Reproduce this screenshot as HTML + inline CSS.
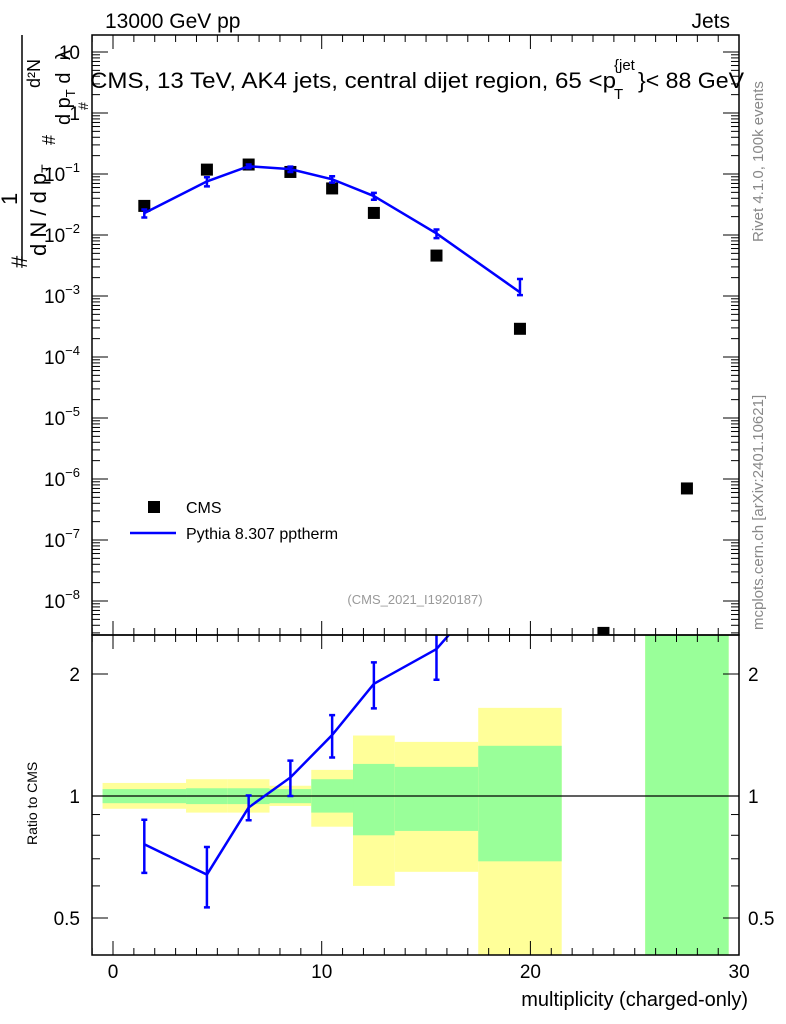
<!DOCTYPE html>
<html><head><meta charset="utf-8"><style>
html,body{margin:0;padding:0;background:#fff}
svg{display:block;font-family:"Liberation Sans",sans-serif}
</style></head><body>
<svg id="c" width="786" height="1024" viewBox="0 0 786 1024">
<defs>
<clipPath id="cm"><rect x="92" y="35" width="647" height="600"/></clipPath>
<clipPath id="cr"><rect x="92" y="635" width="647" height="320"/></clipPath>
</defs>
<g id="bands" clip-path="url(#cr)"></g>
<g id="main"></g>
<g id="ratio"></g>
<rect x="92" y="35" width="647" height="600" fill="none" stroke="#000" stroke-width="1.5"/>
<rect x="92" y="635" width="647" height="320" fill="none" stroke="#000" stroke-width="1.5"/>
<g id="axes"></g>
<text x="105" y="28" font-size="21">13000 GeV pp</text>
<text x="730" y="28" font-size="21" text-anchor="end">Jets</text>
<g>
<text x="90" y="88" font-size="22" textLength="526" lengthAdjust="spacingAndGlyphs">CMS, 13 TeV, AK4 jets, central dijet region, 65 &lt;p</text>
<text x="614" y="70" font-size="15">{jet</text>
<text x="614" y="99" font-size="15">T</text>
<text x="638" y="88" font-size="22" textLength="106" lengthAdjust="spacingAndGlyphs">}&lt; 88 GeV</text>
</g>
<text x="415" y="604" font-size="13" fill="#999" text-anchor="middle">(CMS_2021_I1920187)</text>
<rect x="148" y="501" width="12" height="12" fill="#000"/>
<text x="186" y="513" font-size="16">CMS</text>
<line x1="130" y1="533" x2="176" y2="533" stroke="#0000ff" stroke-width="2.5"/>
<text x="186" y="539" font-size="16">Pythia 8.307 pptherm</text>
<text transform="translate(763,242) rotate(-90)" font-size="15" fill="#888">Rivet 4.1.0,  100k events</text>
<text transform="translate(763,630) rotate(-90)" font-size="15" fill="#888">mcplots.cern.ch [arXiv:2401.10621]</text>
<text transform="translate(37,845) rotate(-90)" font-size="14">Ratio to CMS</text>
<g>
<text transform="translate(27,268) rotate(-90)" font-size="22">#</text>
<text transform="translate(17,205) rotate(-90)" font-size="22">1</text>
<line x1="22" y1="262" x2="22" y2="35" stroke="#000" stroke-width="1.5"/>
<text transform="translate(46,256) rotate(-90)" font-size="22">d N / d p<tspan font-size="14" dy="5">T</tspan></text>
<text transform="translate(55,145) rotate(-90)" font-size="18">#</text>
<text transform="translate(40,88) rotate(-90)" font-size="18">d²N</text>
<text transform="translate(70,125) rotate(-90)" font-size="20">d p<tspan font-size="13" dy="5">T</tspan><tspan dy="-5"> d</tspan></text>
<text transform="translate(70,60) rotate(-90)" font-size="20">λ</text>
<text transform="translate(88,110) rotate(-90)" font-size="14">#</text>
</g>
<text x="748" y="1006" font-size="20" text-anchor="end">multiplicity (charged-only)</text>
</svg>
<script>
const binCenters=[1.5,4.5,6.5,8.5,10.5,12.5,15.5,19.5,23.5,27.5];
const binLo=[-0.5,3.5,5.5,7.5,9.5,11.5,13.5,17.5,21.5,25.5];
const binHi=[3.5,5.5,7.5,9.5,11.5,13.5,17.5,21.5,25.5,29.5];
const cmsValues=[0.030,0.118,0.143,0.108,0.058,0.023,0.0046,0.00029,3e-9,7e-7];
const pythiaX=[1.5,4.5,6.5,8.5,10.5,12.5,15.5,19.5];
const pythiaValues=[0.0228,0.0755,0.134,0.120,0.082,0.0435,0.0106,0.00115];
const pythiaErrUp=[0.15,0.17,0.07,0.1,0.12,0.13,0.16,0.65];
const pythiaErrDown=[0.15,0.17,0.07,0.1,0.12,0.13,0.16,0.1];
const bandInnerLo=[0.96,0.955,0.955,0.96,0.91,0.8,0.82,0.69,null,0.3];
const bandInnerHi=[1.04,1.045,1.045,1.04,1.1,1.2,1.18,1.33,null,3];
const bandOuterLo=[0.93,0.91,0.91,0.945,0.84,0.6,0.65,0.3,null,0.3];
const bandOuterHi=[1.077,1.1,1.1,1.06,1.16,1.41,1.36,1.65,null,3];
const xTicks=[0,10,20,30];
const mainTicks=[10,1,0.1,0.01,1e-3,1e-4,1e-5,1e-6,1e-7,1e-8];
const ratioTicks=[2,1,0.5];

const NS="http://www.w3.org/2000/svg";
const X=v=>113+(v)*20.87;
const Y=v=>113-61*Math.log10(v);
const R=v=>796-122*Math.log2(v);
function mk(p,t,a){const e=document.createElementNS(NS,t);for(const k in a)e.setAttribute(k,a[k]);p.appendChild(e);return e;}
const bands=document.getElementById('bands'),main=document.getElementById('main'),ratio=document.getElementById('ratio'),axes=document.getElementById('axes');
for(let i=0;i<binCenters.length;i++){
 if(bandOuterLo[i]==null)continue;
 const o=mk(bands,'rect',{x:X(binLo[i]),y:R(bandOuterHi[i]),width:X(binHi[i])-X(binLo[i]),height:R(bandOuterLo[i])-R(bandOuterHi[i]),fill:'#ffff99'});
 
 
 const g=mk(bands,'rect',{x:X(binLo[i]),y:R(bandInnerHi[i]),width:X(binHi[i])-X(binLo[i]),height:R(bandInnerLo[i])-R(bandInnerHi[i]),fill:'#99ff99'});
 
 
}
mk(bands,'line',{x1:92,x2:739,y1:R(1),y2:R(1),stroke:'#000','stroke-width':1.2});
const mg=mk(main,'g',{'clip-path':'url(#cm)'});
for(let i=0;i<cmsValues.length;i++){
 const s=mk(mg,'rect',{x:X(binCenters[i])-6,y:Y(cmsValues[i])-6,width:12,height:12,fill:'#000'});
 
 
}
let d='';pythiaX.forEach((x,i)=>{d+=(i?'L':'M')+X(x)+' '+Y(pythiaValues[i]);});
const pl=mk(mg,'path',{d:d,fill:'none',stroke:'#0000ff','stroke-width':2.5});


pythiaX.forEach((x,i)=>{
 const v=pythiaValues[i];
 const y1=Y(v*(1+pythiaErrUp[i])),y2=Y(v*(1-pythiaErrDown[i]));
 const b=mk(mg,'path',{d:`M${X(x)} ${y1}V${y2}M${X(x)-3} ${y1}h6M${X(x)-3} ${y2}h6`,stroke:'#0000ff','stroke-width':2.5,fill:'none'});
 
 
});
const rg=mk(ratio,'g',{'clip-path':'url(#cr)'});
let rd='';pythiaX.forEach((x,i)=>{rd+=(i?'L':'M')+X(x)+' '+R(pythiaValues[i]/cmsValues[i]);});
const rl=mk(rg,'path',{d:rd,fill:'none',stroke:'#0000ff','stroke-width':2.5});


pythiaX.forEach((x,i)=>{
 const r=pythiaValues[i]/cmsValues[i];
 const y1=R(r*(1+pythiaErrUp[i])),y2=R(r*(1-pythiaErrDown[i]));
 const b=mk(rg,'path',{d:`M${X(x)} ${y1}V${y2}M${X(x)-3} ${y1}h6M${X(x)-3} ${y2}h6`,stroke:'#0000ff','stroke-width':2.5,fill:'none'});
 
 
});
const A={stroke:'#000','stroke-width':1};
for(let v=-1;v<=29;v+=1){
 const big=v%10==0, len=big?14:7, x=X(v);
 [[35,1],[635,-1],[635,1],[955,-1]].forEach(([y,s])=>mk(axes,'line',Object.assign({x1:x,x2:x,y1:y,y2:y+s*len},A)));
}
xTicks.forEach(v=>{const t=mk(axes,'text',{x:X(v),y:978,'font-size':19,'text-anchor':'middle'});t.textContent=v;
 
 });
for(let p=-9;p<=1;p++){for(let m=1;m<10;m++){const v=m*Math.pow(10,p),y=Y(v);if(y<35||y>635)continue;const l=m==1?16:8;
 mk(axes,'line',Object.assign({x1:92,x2:92+l,y1:y,y2:y},A));mk(axes,'line',Object.assign({x1:739,x2:739-l,y1:y,y2:y},A));}}
mainTicks.forEach(v=>{const y=Y(v);const t=mk(axes,'text',{x:80,y:y+7,'font-size':19,'text-anchor':'end'});
 const e=Math.round(Math.log10(v));
 if(e==1)t.textContent='10';else if(e==0)t.textContent='1';else{t.textContent='10';const s=mk(t,'tspan',{dy:-9,'font-size':13});s.textContent='−'+(-e);}
 
 });
[0.5,0.6,0.7,0.8,0.9,1,2].forEach(v=>{const y=R(v),l=(v==0.5||v==1||v==2)?16:8;
 mk(axes,'line',Object.assign({x1:92,x2:92+l,y1:y,y2:y},A));mk(axes,'line',Object.assign({x1:739,x2:739-l,y1:y,y2:y},A));});
ratioTicks.forEach(v=>{const y=R(v);
 const a=mk(axes,'text',{x:80,y:y+7,'font-size':19,'text-anchor':'end'});a.textContent=v;
 
 
 const b=mk(axes,'text',{x:748,y:y+7,'font-size':19});b.textContent=v;
 
 });
</script>
</body></html>
